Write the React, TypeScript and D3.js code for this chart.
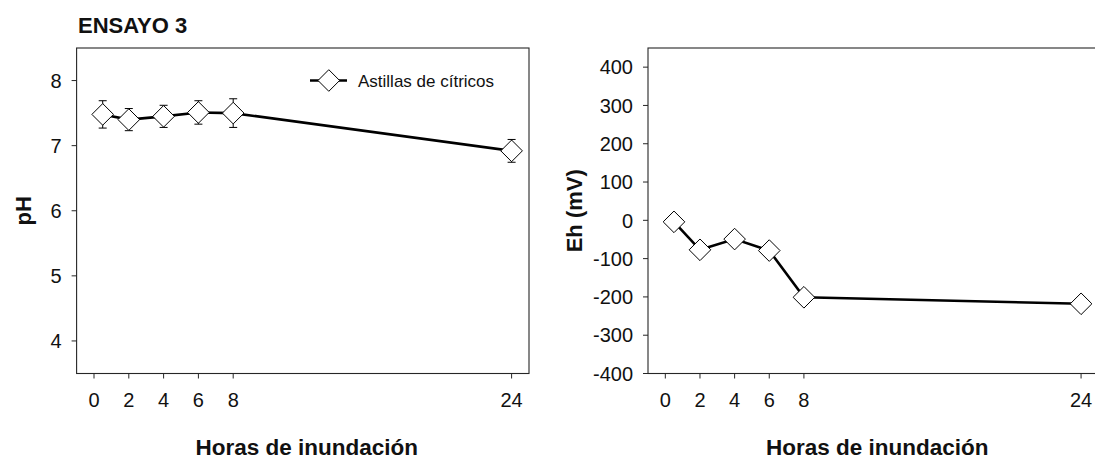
import React from "react";
import * as d3 from "d3";

const hours = [0.5, 2, 4, 6, 8, 24];
const phMean = [7.48, 7.4, 7.45, 7.51, 7.5, 6.92];
const phErr = [0.21, 0.17, 0.17, 0.18, 0.22, 0.175];
const ehMean = [-4, -77, -49, -79, -201, -218];
const xTicks = [0, 2, 4, 6, 8, 24];
const phTicks = [4, 5, 6, 7, 8];
const ehTicks = [-400, -300, -200, -100, 0, 100, 200, 300, 400];
const title = "ENSAYO 3";
const seriesName = "Astillas de cítricos";
const xTitle = "Horas de inundación";

const FONT = "'Liberation Sans', Arial, Helvetica, sans-serif";
const TOP = 48;
const BOTTOM = 373.5;
const D = 10.8;

function diamond(cx: number, cy: number, r: number) {
  return `M${cx},${cy - r}L${cx + r},${cy}L${cx},${cy + r}L${cx - r},${cy}Z`;
}

type PanelProps = {
  x0: number;
  x1: number;
  yDomain: [number, number];
  yTicks: number[];
  values: number[];
  errs?: number[];
  yLabel: string;
  yLabelX: number;
  legend?: boolean;
};

function Panel({ x0, x1, yDomain, yTicks, values, errs, yLabel, yLabelX, legend }: PanelProps) {
  const x = d3.scaleLinear().domain([-1, 25]).range([x0, x1]);
  const y = d3.scaleLinear().domain(yDomain).range([BOTTOM, TOP]);
  const line = d3
    .line<number>()
    .x((_, i) => x(hours[i]))
    .y((v) => y(v));
  const cxMid = (x0 + x1) / 2 + 4;
  return (
    <g>
      <rect x={x0} y={TOP} width={x1 - x0} height={BOTTOM - TOP} fill="none" stroke="#262626" strokeWidth={1.1} />
      {yTicks.map((t) => (
        <g key={"y" + t}>
          <line x1={x0 - 5} x2={x0} y1={y(t)} y2={y(t)} stroke="#262626" strokeWidth={1} />
          <text x={x0 - 15} y={y(t)} dy="0.36em" textAnchor="end" fontSize={20} fontFamily={FONT} fill="#111">
            {t}
          </text>
        </g>
      ))}
      {xTicks.map((t) => (
        <g key={"x" + t}>
          <line x1={x(t)} x2={x(t)} y1={BOTTOM} y2={BOTTOM + 5} stroke="#262626" strokeWidth={1} />
          <text x={x(t)} y={407} textAnchor="middle" fontSize={20} fontFamily={FONT} fill="#111">
            {t}
          </text>
        </g>
      ))}
      <path d={line(values) || ""} fill="none" stroke="#000" strokeWidth={2.6} />
      {errs &&
        values.map((v, i) => (
          <g key={"e" + i} stroke="#000" strokeWidth={1}>
            <line x1={x(hours[i])} x2={x(hours[i])} y1={y(v + errs[i])} y2={y(v - errs[i])} />
            <line x1={x(hours[i]) - 4} x2={x(hours[i]) + 4} y1={y(v + errs[i])} y2={y(v + errs[i])} />
            <line x1={x(hours[i]) - 4} x2={x(hours[i]) + 4} y1={y(v - errs[i])} y2={y(v - errs[i])} />
          </g>
        ))}
      {values.map((v, i) => (
        <path key={"d" + i} d={diamond(x(hours[i]), y(v), D)} fill="#fff" stroke="#000" strokeWidth={1} />
      ))}
      {legend && (
        <g>
          <line x1={310} x2={347} y1={80.5} y2={80.5} stroke="#000" strokeWidth={2.6} />
          <path d={diamond(328.8, 80.5, D)} fill="#fff" stroke="#000" strokeWidth={1} />
          <text x={358} y={86.5} fontSize={17} fontFamily={FONT} fill="#111">
            {seriesName}
          </text>
        </g>
      )}
      <text
        transform={`translate(${yLabelX},${(TOP + BOTTOM) / 2}) rotate(-90)`}
        textAnchor="middle"
        fontSize={22}
        fontWeight="bold"
        fontFamily={FONT}
        fill="#111"
      >
        {yLabel}
      </text>
      <text x={cxMid} y={455} textAnchor="middle" fontSize={22.5} fontWeight="bold" fontFamily={FONT} fill="#111">
        {xTitle}
      </text>
    </g>
  );
}

export default function App() {
  return (
    <svg
      width={1095}
      height={459}
      style={{ position: "absolute", left: 0, top: 0, background: "#fff" }}
    >
      <rect x={0} y={0} width={1095} height={459} fill="#fff" />
      <text x={78} y={32.7} fontSize={22} fontWeight="bold" fontFamily={FONT} fill="#111">
        {title}
      </text>
      <Panel
        x0={76.6}
        x1={529}
        yDomain={[3.5, 8.5]}
        yTicks={phTicks}
        values={phMean}
        errs={phErr}
        yLabel="pH"
        yLabelX={31}
        legend
      />
      <Panel
        x0={648}
        x1={1098.4}
        yDomain={[-400, 450]}
        yTicks={ehTicks}
        values={ehMean}
        yLabel="Eh (mV)"
        yLabelX={582}
      />
    </svg>
  );
}
